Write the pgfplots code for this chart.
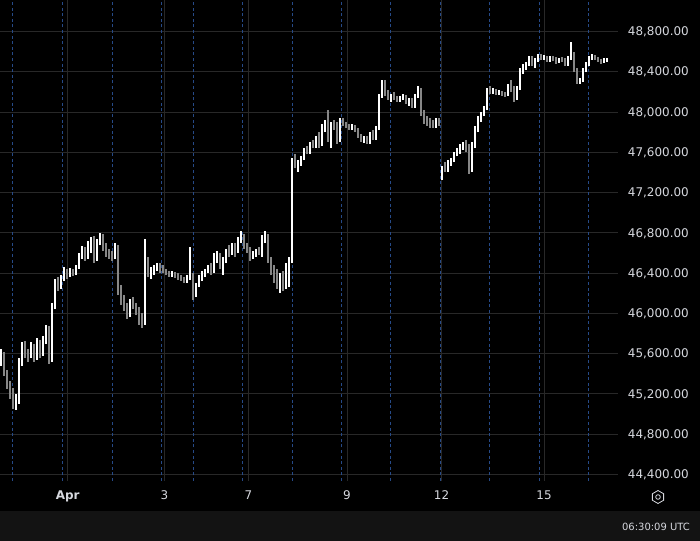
\documentclass[border=0pt]{standalone}
\usepackage{pgfplots}
\usepackage{pgfplotstable}
\pgfplotsset{compat=1.18}
\usepackage{fontspec}
\setmainfont{DejaVu Sans}

\definecolor{gridgray}{RGB}{40,40,40}
\definecolor{sessblue}{RGB}{38,74,136}
\definecolor{downgray}{RGB}{135,135,135}
\definecolor{labelgray}{RGB}{214,216,222}
\definecolor{barbg}{RGB}{19,19,19}

% x = bar position (px), open, high, low, close
\pgfplotstableread{
x o h l c
1 45520 45650 45480 45600
4 45600 45620 45380 45420
7 45420 45440 45250 45280
10 45280 45330 45150 45200
13 45200 45260 45050 45120
16 45120 45200 45040 45150
19 45150 45560 45100 45500
22 45500 45720 45480 45680
25 45680 45730 45560 45600
28 45600 45650 45520 45580
31 45580 45720 45560 45680
34 45680 45700 45520 45560
37 45560 45760 45540 45720
40 45720 45740 45560 45600
43 45600 45780 45580 45740
46 45740 45880 45700 45860
49 45860 45870 45500 45540
52 45540 46100 45520 46060
55 46060 46340 46040 46300
58 46300 46360 46220 46260
61 46260 46380 46240 46350
64 46350 46460 46320 46420
67 46420 46440 46340 46380
70 46380 46450 46360 46430
73 46430 46440 46370 46400
76 46400 46480 46380 46460
79 46460 46600 46440 46560
82 46560 46670 46540 46640
85 46640 46660 46520 46560
88 46560 46720 46540 46680
91 46680 46760 46600 46740
94 46740 46770 46500 46540
97 46540 46740 46520 46700
100 46700 46800 46680 46780
103 46780 46790 46620 46660
106 46660 46700 46560 46600
109 46600 46640 46540 46580
112 46580 46620 46520 46560
115 46560 46700 46540 46660
118 46660 46680 46180 46240
121 46240 46280 46080 46120
124 46120 46180 46020 46060
127 46060 46100 45940 45980
130 45980 46140 45960 46100
133 46100 46160 46040 46080
136 46080 46100 45980 46020
139 46020 46060 45880 45920
142 45920 46000 45850 45900
145 45900 46740 45880 46520
148 46520 46560 46360 46400
151 46400 46460 46340 46420
154 46420 46480 46380 46460
157 46460 46500 46420 46480
160 46480 46500 46400 46440
163 46440 46480 46400 46420
166 46420 46440 46380 46400
169 46400 46420 46360 46380
172 46380 46420 46360 46400
175 46400 46410 46350 46370
178 46370 46400 46330 46360
181 46360 46380 46320 46340
184 46340 46360 46300 46320
187 46320 46380 46300 46360
190 46360 46660 46330 46380
193 46380 46400 46130 46180
196 46180 46300 46160 46280
199 46280 46380 46260 46340
202 46340 46420 46320 46400
205 46400 46440 46360 46420
208 46420 46480 46400 46460
211 46460 46500 46380 46420
214 46420 46600 46400 46560
217 46560 46620 46500 46580
220 46580 46600 46440 46480
223 46480 46560 46380 46520
226 46520 46640 46500 46620
229 46620 46680 46560 46600
232 46600 46700 46580 46680
235 46680 46700 46560 46620
238 46620 46760 46600 46740
241 46740 46820 46700 46780
244 46780 46790 46640 46680
247 46680 46700 46600 46640
250 46640 46660 46520 46560
253 46560 46620 46540 46600
256 46600 46640 46560 46620
259 46620 46660 46580 46600
262 46600 46780 46560 46740
265 46740 46820 46700 46780
268 46780 46790 46500 46540
271 46540 46560 46380 46420
274 46420 46480 46300 46340
277 46340 46440 46240 46280
280 46280 46400 46200 46360
283 46360 46420 46220 46260
286 46260 46500 46240 46460
289 46460 46560 46260 46520
292 46520 47540 46500 47500
295 47500 47580 47440 47460
298 47460 47520 47400 47480
301 47480 47560 47460 47540
304 47540 47640 47520 47620
307 47620 47660 47580 47600
310 47600 47700 47580 47680
313 47680 47720 47640 47660
316 47660 47760 47640 47740
319 47740 47800 47640 47680
322 47680 47880 47660 47840
325 47840 47920 47800 47880
328 47880 48020 47700 47760
331 47760 47900 47640 47880
334 47880 47920 47820 47860
337 47860 47900 47680 47720
340 47720 47940 47700 47920
343 47920 47940 47860 47880
346 47880 47900 47840 47860
349 47860 47880 47820 47840
352 47840 47880 47820 47860
355 47860 47870 47800 47820
358 47820 47840 47740 47760
361 47760 47780 47700 47720
364 47720 47760 47690 47740
367 47740 47760 47680 47700
370 47700 47800 47680 47780
373 47780 47820 47720 47740
376 47740 47860 47720 47840
379 47840 48180 47820 48160
382 48160 48320 48140 48280
385 48280 48320 48160 48180
388 48180 48220 48120 48140
391 48140 48180 48100 48160
394 48160 48200 48120 48140
397 48140 48160 48100 48120
400 48120 48160 48100 48140
403 48140 48180 48120 48160
406 48160 48170 48080 48100
409 48100 48140 48060 48120
412 48120 48140 48040 48060
415 48060 48180 48040 48160
418 48160 48260 48140 48220
421 48220 48240 47960 48000
424 48000 48020 47880 47920
427 47920 47960 47860 47900
430 47900 47940 47840 47880
433 47880 47920 47840 47860
436 47860 47940 47840 47920
439 47920 47940 47860 47900
442 47380 47460 47320 47440
445 47440 47500 47400 47420
448 47420 47520 47400 47500
451 47500 47540 47460 47520
454 47520 47600 47500 47580
457 47580 47640 47560 47620
460 47620 47680 47580 47660
463 47660 47700 47620 47680
466 47680 47720 47600 47640
469 47640 47680 47380 47420
472 47420 47700 47400 47660
475 47660 47860 47640 47820
478 47820 47960 47800 47940
481 47940 48000 47900 47980
484 47980 48060 47960 48040
487 48040 48240 48020 48220
490 48220 48260 48180 48200
493 48200 48240 48180 48220
496 48220 48230 48170 48190
499 48190 48220 48170 48200
502 48200 48210 48160 48180
505 48180 48200 48150 48170
508 48170 48280 48160 48260
511 48260 48320 48200 48220
514 48220 48260 48100 48140
517 48140 48260 48120 48240
520 48240 48440 48220 48400
523 48400 48480 48380 48460
526 48460 48500 48420 48480
529 48480 48560 48460 48540
532 48540 48560 48460 48500
535 48500 48540 48440 48520
538 48520 48580 48500 48560
541 48560 48580 48520 48540
544 48540 48570 48520 48550
547 48550 48560 48500 48520
550 48520 48560 48500 48540
553 48540 48560 48510 48530
556 48530 48550 48480 48500
559 48500 48540 48490 48530
562 48530 48550 48500 48520
565 48520 48540 48460 48480
568 48480 48560 48460 48540
571 48540 48700 48520 48580
574 48580 48600 48400 48420
577 48420 48440 48280 48300
580 48300 48340 48280 48320
583 48320 48440 48300 48420
586 48420 48500 48400 48480
589 48480 48560 48460 48540
592 48540 48580 48520 48560
595 48560 48570 48520 48530
598 48530 48550 48500 48520
601 48520 48530 48480 48500
604 48500 48540 48490 48520
607 48520 48540 48500 48530
}\candles

\begin{document}
\begin{tikzpicture}[x=1bp,y=1bp]
\fill[black] (0,0) rectangle (700,541);
\fill[barbg] (0,0) rectangle (700,30);

\begin{axis}[
    at={(0bp,60bp)}, anchor=south west,
    scale only axis, width=618bp, height=481bp,
    xmin=0, xmax=618, ymin=44335, ymax=49113,
    axis line style={draw=none},
    major tick length=0pt,
    grid=major,
    major grid style={gridgray, line width=0.9bp},
    xtick={67.7,164.3,248.3,347,441.5,544},
    xticklabels={\textbf{Apr},3,7,9,12,15},
    xticklabel style={anchor=base, yshift=-19bp, inner sep=0pt,
        text=labelgray, font=\fontsize{12}{14}\selectfont},
    extra x ticks={12.3,62.3,112.3,161.7,193.3,242.3,292.3,341.3,390.7,440.5,489.5,539,588.5},
    extra x tick labels={},
    extra x tick style={grid=major, major grid style={sessblue, line width=0.8bp, dash pattern=on 3bp off 2.6bp}},
    ytick={44400,44800,...,48800},
    scaled y ticks=false,
    yticklabel pos=right,
    yticklabel style={anchor=base east, xshift=71bp, yshift=-4.2bp, inner sep=0pt,
        text=labelgray, font=\fontsize{12}{14}\selectfont,
        /pgf/number format/fixed, /pgf/number format/fixed zerofill,
        /pgf/number format/precision=2, /pgf/number format/1000 sep={,},
        /pgf/number format/assume math mode=true},
  ]
  % wicks, down bars
  \addplot[draw=none, mark=none,
      restrict expr to domain={\thisrow{o}-\thisrow{c}}{0.5:100000},
      error bars/.cd, y dir=both, y explicit, error mark=none,
      error bar style={draw=downgray, solid, line width=1.1bp}]
    table[x=x, y expr={(\thisrow{h}+\thisrow{l})/2}, y error expr={(\thisrow{h}-\thisrow{l})/2}] {\candles};
  % bodies, down bars
  \addplot[draw=none, mark=none,
      restrict expr to domain={\thisrow{o}-\thisrow{c}}{0.5:100000},
      error bars/.cd, y dir=both, y explicit, error mark=none,
      error bar style={draw=downgray, solid, line width=2.6bp}]
    table[x=x, y expr={(\thisrow{o}+\thisrow{c})/2}, y error expr={max((\thisrow{o}-\thisrow{c})/2,8)}] {\candles};
  % wicks, up bars
  \addplot[draw=none, mark=none,
      restrict expr to domain={\thisrow{c}-\thisrow{o}}{0:100000},
      error bars/.cd, y dir=both, y explicit, error mark=none,
      error bar style={draw=white, solid, line width=1.1bp}]
    table[x=x, y expr={(\thisrow{h}+\thisrow{l})/2}, y error expr={(\thisrow{h}-\thisrow{l})/2}] {\candles};
  % bodies, up bars
  \addplot[draw=none, mark=none,
      restrict expr to domain={\thisrow{c}-\thisrow{o}}{0:100000},
      error bars/.cd, y dir=both, y explicit, error mark=none,
      error bar style={draw=white, solid, line width=2.6bp}]
    table[x=x, y expr={(\thisrow{o}+\thisrow{c})/2}, y error expr={max((\thisrow{c}-\thisrow{o})/2,8)}] {\candles};
\end{axis}

% settings icon
\draw[labelgray, line width=0.8bp] (658,44) +(90:6.5) -- +(150:6.5) -- +(210:6.5) -- +(270:6.5) -- +(330:6.5) -- +(30:6.5) -- cycle;
\draw[labelgray, line width=0.8bp] (658,44) circle (2.3);

\node[anchor=base east, inner sep=0pt, text=labelgray, font=\fontsize{10}{12}\selectfont] at (690,10.5) {06:30:09 UTC};

\pgfresetboundingbox
\path (0,0) rectangle (700,541);
\end{tikzpicture}
\end{document}
